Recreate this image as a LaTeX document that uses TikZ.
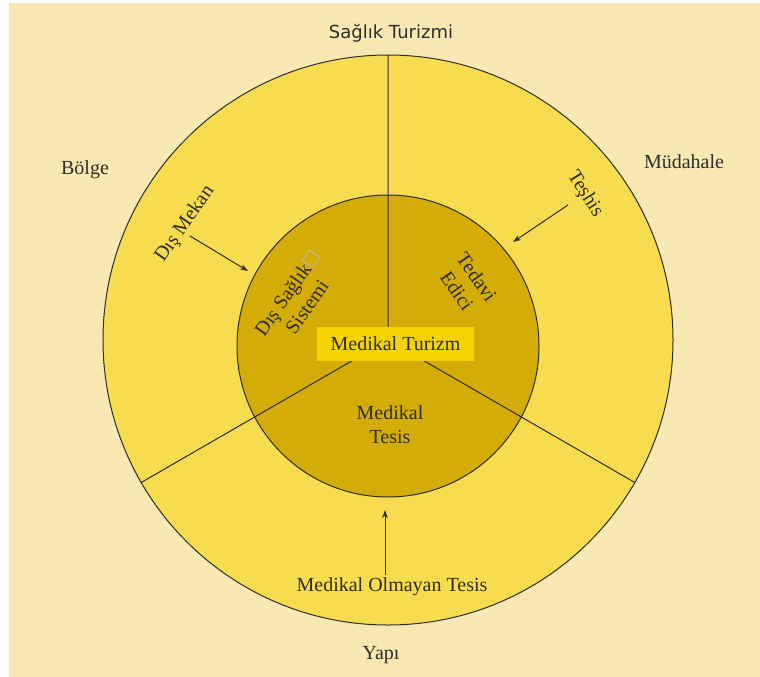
\documentclass[tikz,border=0pt]{standalone}
\usepackage{fontspec}
\setmainfont{Liberation Serif}
\newfontfamily\headfont{DejaVu Sans}
\usepackage{amssymb}
\usetikzlibrary{arrows.meta}
\definecolor{paper}{RGB}{248,232,178}
\definecolor{ring}{RGB}{247,220,80}
\definecolor{core}{RGB}{212,172,8}
\definecolor{hub}{RGB}{245,211,0}
\definecolor{ink}{RGB}{45,45,45}

\begin{document}
\begin{tikzpicture}[x=1pt,y=-1pt,>={Stealth[length=8pt,width=5.5pt]},
  lbl/.style={font=\fontsize{20}{24}\selectfont,text=ink,inner sep=0pt,align=center},
  arr/.style={->,ink,line width=1pt},
  seam/.style={ink,line width=1pt}]
  \useasboundingbox (0,0) rectangle (760,677);
  \fill[paper] (9,3) rectangle (760,677);
  % rings
  \draw[seam,fill=ring] (388,340) circle[radius=285pt];
  \draw[seam,fill=core] (388,346) circle[radius=151pt];
  \coordinate (c) at (388,340);
  \coordinate (n) at (388,55); \coordinate (sw) at (141.2,482.5); \coordinate (se) at (634.8,482.5);
  \draw[seam] (c) -- (n) (c) -- (sw) (c) -- (se);
  \node[lbl,fill=hub,minimum width=157pt,minimum height=34pt] (hub) at (395.5,344) {Medikal Turizm};
  % outside labels
  \node[font=\headfont\fontsize{18}{20}\selectfont,text=ink] (saglik) at (391,33) {Sağlık Turizmi};
  \node[lbl] (bolge) at (85,170) {Bölge};
  \node[lbl] (mudahale) at (684,162) {Müdahale};
  \node[lbl] (yapi) at (381,655) {Yapı};
  % ring labels
  \node[lbl,rotate=55] (dismekan) at (185,224) {Dış Mekan};
  \node[lbl,rotate=-58] (teshis) at (585,194) {Teşhis};
  \node[lbl] (medolm) at (392,587) {Medikal Olmayan Tesis};
  % core labels
  \node[lbl,rotate=55] (dissaglik) at (297,300) {Dış Sağlık{\color{gray!50}$\square$}\\Sistemi};
  \node[lbl,rotate=-55] (tedavi) at (467,284) {Tedavi\\Edici};
  \node[lbl] (medtesis) at (390,425) {Medikal\\Tesis};
  % arrows
  \coordinate (dmA) at (190,236); \coordinate (dmB) at (248,271);
  \coordinate (teA) at (568,205); \coordinate (teB) at (513,242);
  \coordinate (moA) at (385,575); \coordinate (moB) at (385,510);
  \draw[arr] (dmA) -- (dmB);
  \draw[arr] (teA) -- (teB);
  \draw[arr] (moA) -- (moB);
\end{tikzpicture}
\end{document}
